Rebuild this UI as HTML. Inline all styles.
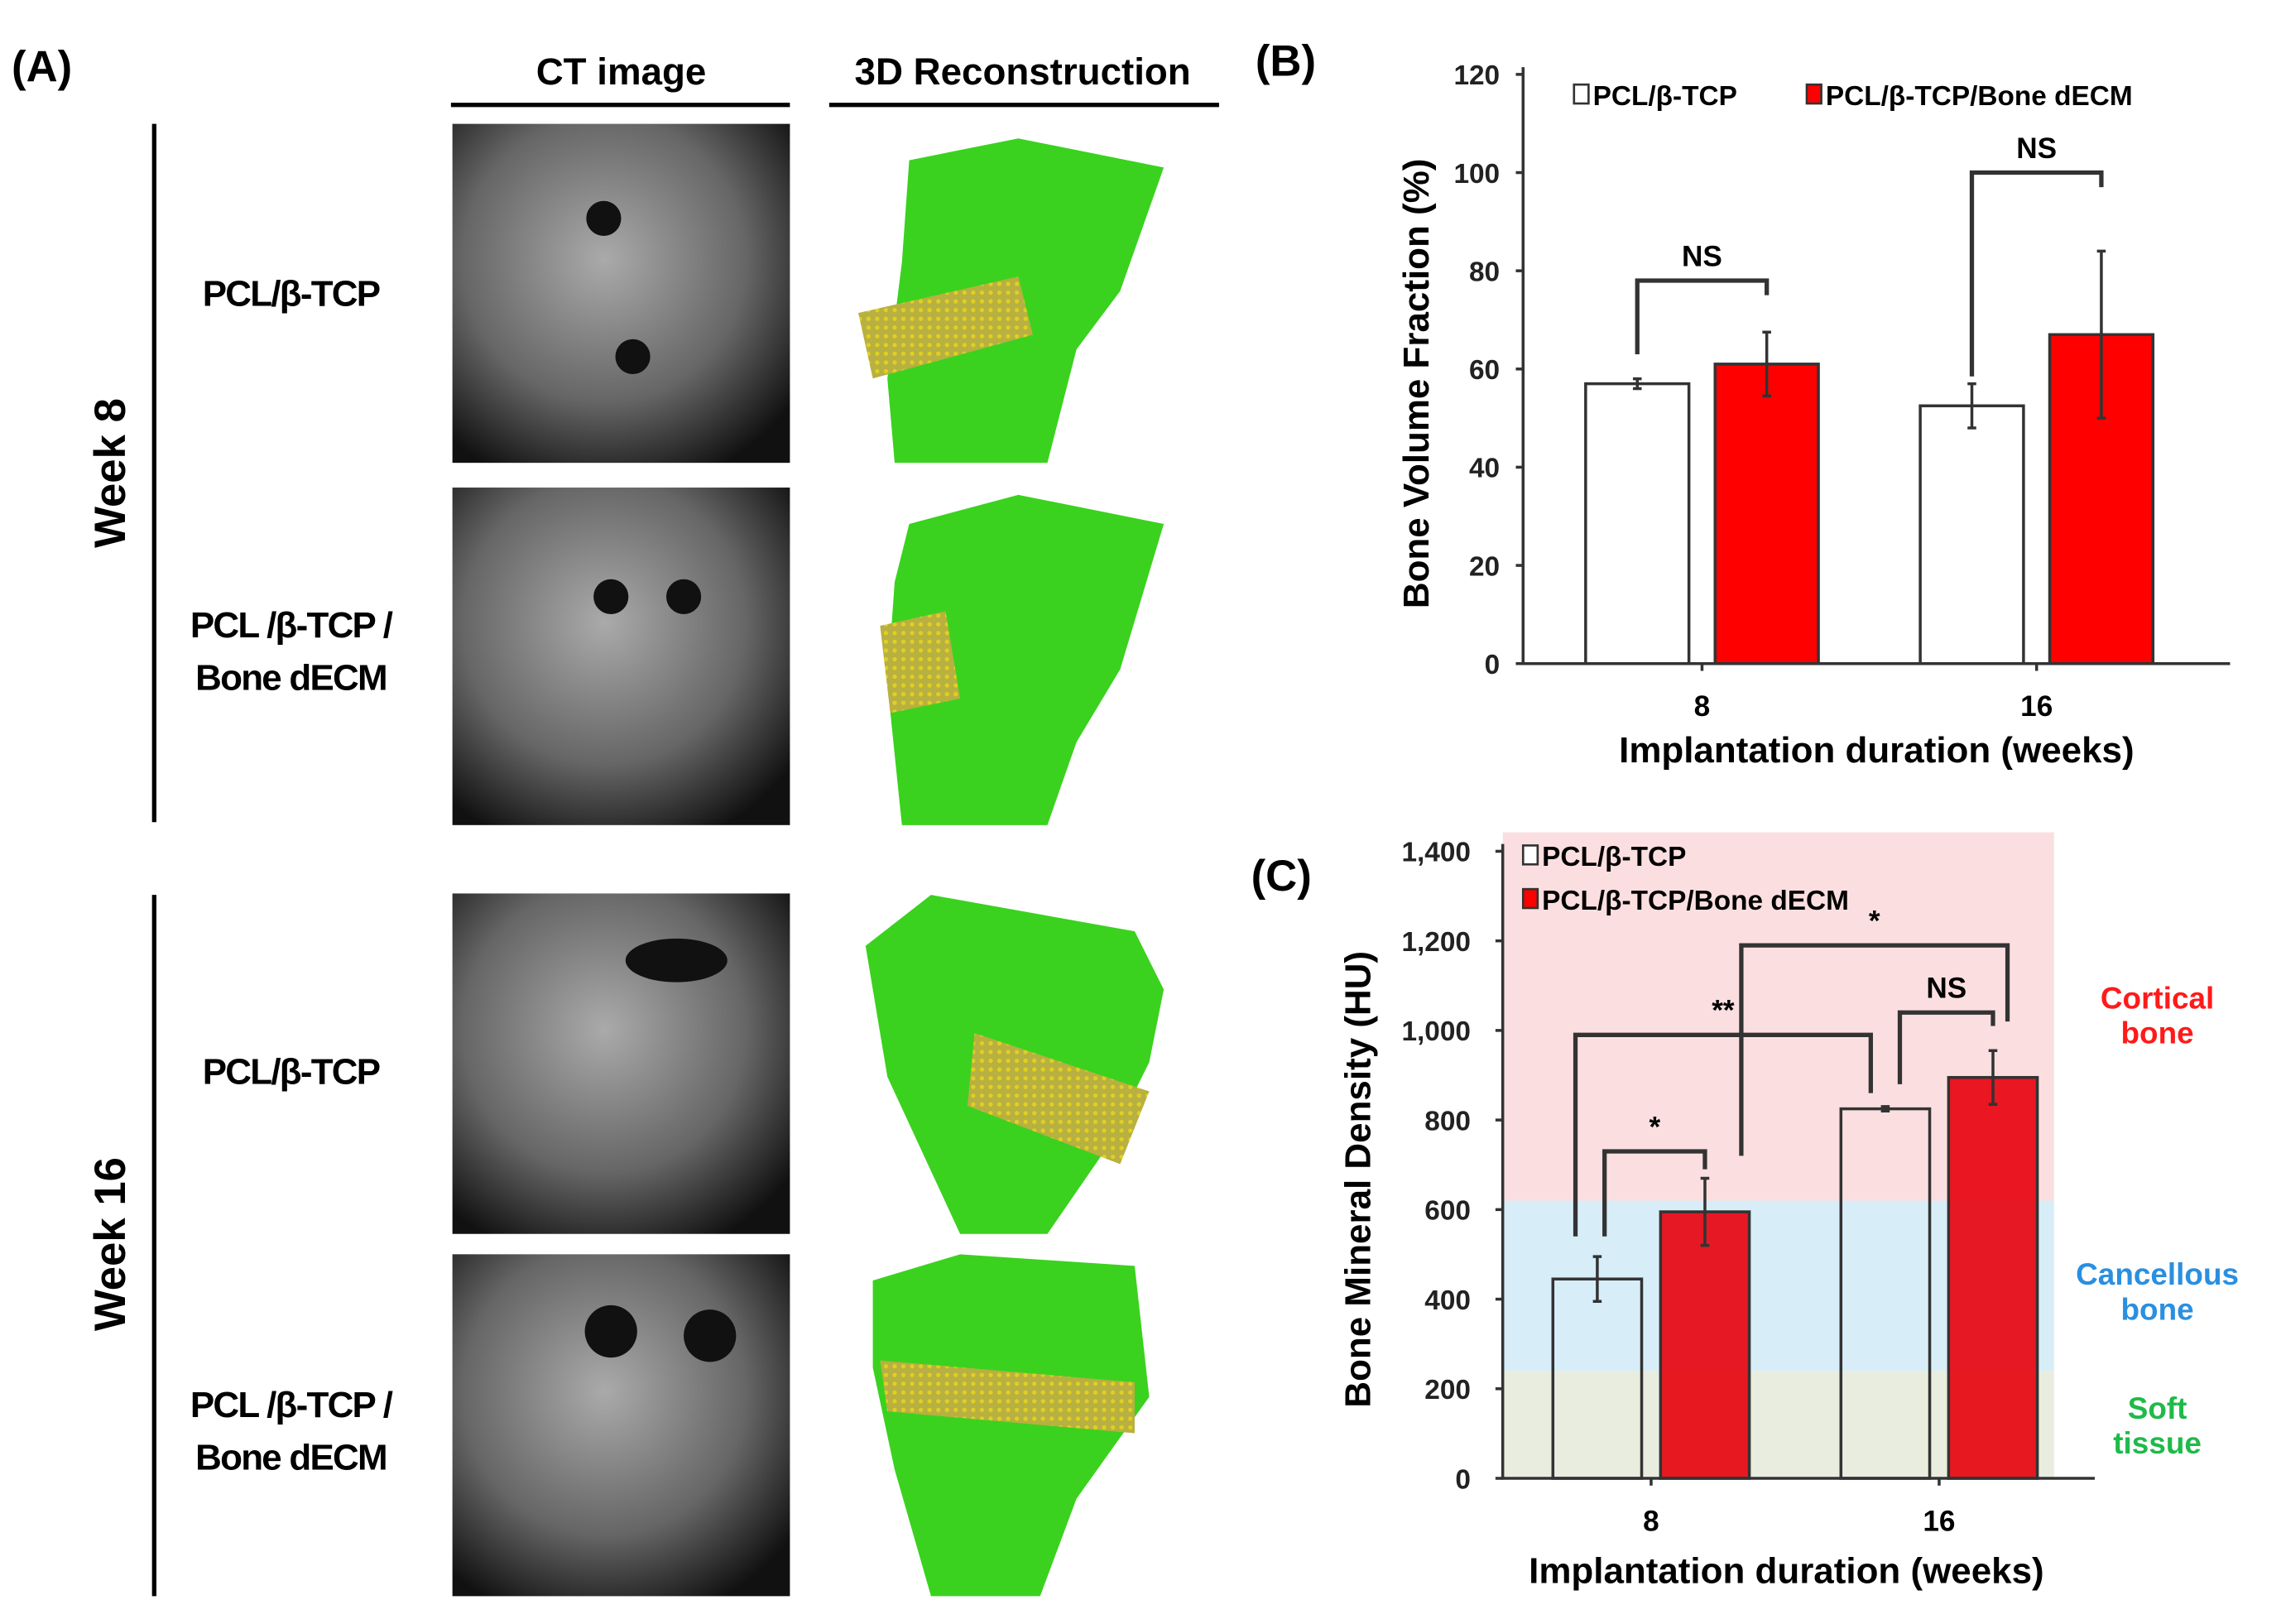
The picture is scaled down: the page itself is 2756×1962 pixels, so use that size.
<!DOCTYPE html>
<html><head><meta charset="utf-8"><style>
html,body{margin:0;padding:0;background:#fff}
svg{display:block;font-family:"Liberation Sans",Arial,sans-serif;font-weight:bold}
</style></head><body>
<svg id="fig" width="2756" height="1962" viewBox="0 0 1568 1116" xmlns="http://www.w3.org/2000/svg">
<defs>
<radialGradient id="ctg" cx="45%" cy="40%" r="70%"><stop offset="0" stop-color="#aaa"/><stop offset="0.6" stop-color="#666"/><stop offset="1" stop-color="#111"/></radialGradient>
<pattern id="scaf" width="6" height="6" patternUnits="userSpaceOnUse"><rect width="6" height="6" fill="#b8b040"/><circle cx="3" cy="3" r="1.5" fill="#e0d020"/></pattern>
</defs>
<g>
<text x="8" y="56" font-size="30">(A)</text>
<text x="427" y="58" font-size="26" text-anchor="middle">CT image</text>
<line x1="310" y1="72" x2="543" y2="72" stroke="#000" stroke-width="3"/>
<text x="703" y="58" font-size="26" text-anchor="middle">3D Reconstruction</text>
<line x1="570" y1="72" x2="838" y2="72" stroke="#000" stroke-width="3"/>
<line x1="106" y1="85" x2="106" y2="565" stroke="#000" stroke-width="3"/>
<line x1="106" y1="615" x2="106" y2="1097" stroke="#000" stroke-width="3"/>
<text transform="translate(86,325) rotate(-90)" font-size="30" text-anchor="middle">Week 8</text>
<text transform="translate(86,855) rotate(-90)" font-size="30" text-anchor="middle">Week 16</text>
<g font-size="25" text-anchor="middle" letter-spacing="-1">
<text x="200" y="210">PCL/β-TCP</text>
<text x="200" y="438">PCL /β-TCP /</text>
<text x="200" y="474">Bone dECM</text>
<text x="200" y="745">PCL/β-TCP</text>
<text x="200" y="974">PCL /β-TCP /</text>
<text x="200" y="1010">Bone dECM</text>
</g>
<g>
<rect x="311" y="85" width="232" height="233" fill="url(#ctg)"/>
<rect x="311" y="335" width="232" height="232" fill="url(#ctg)"/>
<rect x="311" y="614" width="232" height="234" fill="url(#ctg)"/>
<rect x="311" y="862" width="232" height="235" fill="url(#ctg)"/>
<circle cx="415" cy="150" r="12" fill="#111"/><circle cx="435" cy="245" r="12" fill="#111"/>
<circle cx="420" cy="410" r="12" fill="#111"/><circle cx="470" cy="410" r="12" fill="#111"/>
<ellipse cx="465" cy="660" rx="35" ry="15" fill="#111"/>
<circle cx="420" cy="915" r="18" fill="#111"/><circle cx="488" cy="918" r="18" fill="#111"/>
</g>
<g fill="#3ad21e">
<path d="M625 110 L700 95 L800 115 L770 200 L740 240 L720 318 L615 318 L610 260 L620 180 Z"/>
<path d="M625 360 L700 340 L800 360 L770 460 L740 510 L720 567 L620 567 L610 470 L615 400 Z"/>
<path d="M595 650 L640 615 L780 640 L800 680 L790 730 L760 790 L720 848 L660 848 L610 740 Z"/>
<path d="M600 880 L660 862 L780 870 L790 960 L740 1030 L715 1097 L640 1097 L615 1010 L600 940 Z"/>
<path d="M590 215 L700 190 L710 230 L600 260 Z" fill="url(#scaf)"/>
<path d="M605 430 L650 420 L660 480 L612 490 Z" fill="url(#scaf)"/>
<path d="M670 710 L790 750 L770 800 L665 760 Z" fill="url(#scaf)"/>
<path d="M605 935 L780 950 L780 985 L610 970 Z" fill="url(#scaf)"/>
</g>
</g>
<g id="chartB"></g>
<g id="chartC"></g>
</svg>
<script>
const categories = ["8", "16"];
const bvfPcl = [57, 52.5];
const bvfPclErr = [1, 4.5];
const bvfDecm = [61, 67];
const bvfDecmErr = [6.5, 17];
const bvfTicks = [0, 20, 40, 60, 80, 100, 120];
const bmdPcl = [445, 825];
const bmdPclErr = [50, 5];
const bmdDecm = [595, 895];
const bmdDecmErr = [75, 60];
const bmdTicks = [0, 200, 400, 600, 800, 1000, 1200, 1400];
const bmdTickLabels = ["0", "200", "400", "600", "800", "1,000", "1,200", "1,400"];
const zoneBounds = [0, 240, 620, 1400];

const NS = "http://www.w3.org/2000/svg";
function mk(parent, tag, attrs, text) {
  const e = document.createElementNS(NS, tag);
  for (const k in attrs) e.setAttribute(k, attrs[k]);
  if (text !== undefined) e.textContent = text;
  parent.appendChild(e);
  return e;
}

// ---- Chart B ----
(function () {
  const g = document.getElementById('chartB');
  const x0 = 1047, x1 = 1533, yb = 456, yt = 51, vmax = 120;
  const y = v => yb - (v / vmax) * (yb - yt);
  const cxs = [1170, 1400];
  const cx = i => cxs[i];
  const bw = 71, gap = 18;
  let t = mk(g, 'text', {x: 863, y: 52, 'font-size': 30}, '(B)');
  
  
  bvfTicks.forEach((v, i) => {
    const tt = mk(g, 'text', {x: 1031, y: y(v) + 7, 'font-size': 19, 'text-anchor': 'end', fill: '#222'}, String(v));
    
    
    mk(g, 'line', {x1: x0 - 5, y1: y(v), x2: x0, y2: y(v), stroke: '#333', 'stroke-width': 2});
  });
  categories.forEach((c, i) => {
    const wl = cx(i) - gap / 2 - bw, rl = cx(i) + gap / 2;
    const b1 = mk(g, 'rect', {x: wl, y: y(bvfPcl[i]), width: bw, height: yb - y(bvfPcl[i]), fill: '#fff', stroke: '#333', 'stroke-width': 2});
    
    
    const b2 = mk(g, 'rect', {x: rl, y: y(bvfDecm[i]), width: bw, height: yb - y(bvfDecm[i]), fill: '#f00', stroke: '#333', 'stroke-width': 2});
    
    
    [[wl + bw / 2, bvfPcl[i], bvfPclErr[i]], [rl + bw / 2, bvfDecm[i], bvfDecmErr[i]]].forEach(([ex, v, e]) => {
      const el = mk(g, 'path', {d: `M${ex} ${y(v + e)}V${y(v - e)}M${ex - 3} ${y(v + e)}H${ex + 3}M${ex - 3} ${y(v - e)}H${ex + 3}`, stroke: '#333', 'stroke-width': 2, fill: 'none'});
      
      
    });
    mk(g, 'line', {x1: cx(i), y1: yb, x2: cx(i), y2: yb + 5, stroke: '#333', 'stroke-width': 2});
    const xl = mk(g, 'text', {x: cx(i), y: yb + 36, 'font-size': 20, 'text-anchor': 'middle'}, c);
    
    
    const lx = wl + bw / 2, rx = rl + bw / 2;
    const yby = i === 0 ? y(78) : y(100);
    const br = mk(g, 'path', {d: `M${lx} ${y(bvfPcl[i] + 6)}V${yby}H${rx}V${yby + 10}`, stroke: '#333', 'stroke-width': 3, fill: 'none'});
    
    
    const ns = mk(g, 'text', {x: (lx + rx) / 2, y: yby - 10, 'font-size': 20, 'text-anchor': 'middle'}, 'NS');
    
    
  });
  mk(g, 'path', {d: `M${x0} ${yt - 5}V${yb}H${x1}`, stroke: '#333', 'stroke-width': 2, fill: 'none'});
  const yt2 = mk(g, 'text', {transform: `translate(982,${(yb + yt) / 2 + 10}) rotate(-90)`, 'font-size': 25, 'text-anchor': 'middle'}, 'Bone Volume Fraction (%)');
  
  
  const xt = mk(g, 'text', {x: 1290, y: 524, 'font-size': 25, 'text-anchor': 'middle'}, 'Implantation duration (weeks)');
  
  
  const l1 = mk(g, 'rect', {x: 1082, y: 58, width: 10, height: 13, fill: '#fff', stroke: '#333', 'stroke-width': 1.5});
  
  
  mk(g, 'text', {x: 1095, y: 72, 'font-size': 19}, 'PCL/β-TCP');
  const l2 = mk(g, 'rect', {x: 1242, y: 58, width: 10, height: 13, fill: '#f00', stroke: '#333', 'stroke-width': 1.5});
  
  
  mk(g, 'text', {x: 1255, y: 72, 'font-size': 19}, 'PCL/β-TCP/Bone dECM');
})();

// ---- Chart C ----
(function () {
  const g = document.getElementById('chartC');
  const x0 = 1033, x1 = 1440, xs = 1412, yb = 1016, yt = 585, vmax = 1400;
  const y = v => yb - (v / vmax) * (yb - yt);
  const cxs = [1135, 1333];
  const bw = 61, gap = 13;
  const zoneCols = ['#e8eddf', '#d7eef8', '#fbdfe0'];
  for (let z = 0; z < 3; z++) {
    const top = z === 2 ? 572 : y(zoneBounds[z + 1]);
    const r = mk(g, 'rect', {x: x0, y: top, width: xs - x0, height: y(zoneBounds[z]) - top, fill: zoneCols[z]});
    
    
  }
  let t = mk(g, 'text', {x: 860, y: 612, 'font-size': 30}, '(C)');
  
  
  bmdTicks.forEach((v, i) => {
    const tt = mk(g, 'text', {x: 1011, y: y(v) + 7, 'font-size': 19, 'text-anchor': 'end', fill: '#222'}, bmdTickLabels[i]);
    
    
    mk(g, 'line', {x1: x0 - 5, y1: y(v), x2: x0, y2: y(v), stroke: '#333', 'stroke-width': 2});
  });
  const pts = [];
  categories.forEach((c, i) => {
    const wl = cxs[i] - gap / 2 - bw, rl = cxs[i] + gap / 2;
    const b1 = mk(g, 'rect', {x: wl, y: y(bmdPcl[i]), width: bw, height: yb - y(bmdPcl[i]), fill: 'none', stroke: '#333', 'stroke-width': 2});
    
    
    const b2 = mk(g, 'rect', {x: rl, y: y(bmdDecm[i]), width: bw, height: yb - y(bmdDecm[i]), fill: '#e8000c', 'fill-opacity': 0.9, stroke: '#333', 'stroke-width': 2});
    
    
    [[wl + bw / 2, bmdPcl[i], bmdPclErr[i]], [rl + bw / 2, bmdDecm[i], bmdDecmErr[i]]].forEach(([ex, v, e]) => {
      const el = mk(g, 'path', {d: `M${ex} ${y(v + e)}V${y(v - e)}M${ex - 3} ${y(v + e)}H${ex + 3}M${ex - 3} ${y(v - e)}H${ex + 3}`, stroke: '#333', 'stroke-width': 2, fill: 'none'});
      
      
    });
    pts.push([wl + bw / 2, rl + bw / 2]);
    mk(g, 'line', {x1: cxs[i], y1: yb, x2: cxs[i], y2: yb + 5, stroke: '#333', 'stroke-width': 2});
    const xl = mk(g, 'text', {x: cxs[i], y: yb + 36, 'font-size': 20, 'text-anchor': 'middle'}, c);
    
    
  });
  mk(g, 'path', {d: `M${x0} ${yt - 5}V${yb}H${x1}`, stroke: '#333', 'stroke-width': 2, fill: 'none'});
  const brackets = [
    [pts[0][0] + 5, pts[0][1], 730, 540, 690, '*'],
    [pts[0][0] - 15, pts[1][0] - 10, 990, 540, 860, '**'],
    [pts[0][1] + 25, pts[1][1] + 10, 1190, 720, 1020, '*'],
    [pts[1][0] + 10, pts[1][1], 1040, 880, 1010, 'NS']
  ];
  brackets.forEach(([a, b, h, la, lb, lab]) => {
    const br = mk(g, 'path', {d: `M${a} ${y(la)}V${y(h)}H${b}V${y(lb)}`, stroke: '#333', 'stroke-width': 3, fill: 'none'});
    
    
    const lt = mk(g, 'text', {x: (a + b) / 2, y: y(h) - 10, 'font-size': 20, 'text-anchor': 'middle'}, lab);
    
    
  });
  const yt2 = mk(g, 'text', {transform: `translate(942,${(yb + yt) / 2 + 10}) rotate(-90)`, 'font-size': 25, 'text-anchor': 'middle'}, 'Bone Mineral Density (HU)');
  
  
  const xt = mk(g, 'text', {x: 1228, y: 1088, 'font-size': 25, 'text-anchor': 'middle'}, 'Implantation duration (weeks)');
  
  
  const l1 = mk(g, 'rect', {x: 1047, y: 581, width: 10, height: 13, fill: '#fff', stroke: '#333', 'stroke-width': 1.5});
  
  
  mk(g, 'text', {x: 1060, y: 595, 'font-size': 19}, 'PCL/β-TCP');
  const l2 = mk(g, 'rect', {x: 1047, y: 611, width: 10, height: 13, fill: '#f00', stroke: '#333', 'stroke-width': 1.5});
  
  
  mk(g, 'text', {x: 1060, y: 625, 'font-size': 19}, 'PCL/β-TCP/Bone dECM');
  [['Cortical', 'bone', 693, '#ff1a1a'], ['Cancellous', 'bone', 883, '#2a8fe0'], ['Soft', 'tissue', 975, '#1fba4a']].forEach(([a, b, yy, col]) => {
    const z = mk(g, 'text', {x: 1483, y: yy, 'font-size': 21, 'text-anchor': 'middle', fill: col}, a);
    
    
    mk(g, 'text', {x: 1483, y: yy + 24, 'font-size': 21, 'text-anchor': 'middle', fill: col}, b);
  });
})();
</script>
</body></html>
